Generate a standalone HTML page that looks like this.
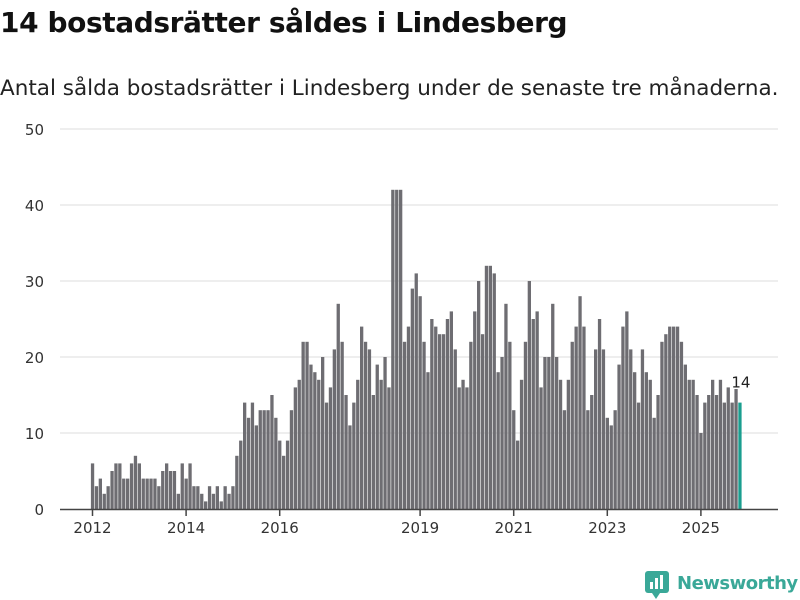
<!DOCTYPE html>
<html><head><meta charset="utf-8"><style>
body{margin:0;background:#fff;width:800px;height:600px;overflow:hidden;font-family:"Liberation Sans","DejaVu Sans",sans-serif}
#title{position:absolute;left:0;top:6px;font-size:28px;font-weight:bold;color:#111;font-family:"DejaVu Sans","Liberation Sans",sans-serif;letter-spacing:-0.4px}
#sub{position:absolute;left:0;top:76px;font-size:21.5px;color:#222;font-family:"DejaVu Sans","Liberation Sans",sans-serif;letter-spacing:0px}
svg{position:absolute;left:0;top:0}
</style></head><body>
<div id="title">14 bostadsrätter såldes i Lindesberg</div>
<div id="sub">Antal sålda bostadsrätter i Lindesberg under de senaste tre månaderna.</div>
<svg id="chart" width="800" height="600"></svg>
<script>
const values=[6,3,4,2,3,5,6,6,4,4,6,7,6,4,4,4,4,3,5,6,5,5,2,6,4,6,3,3,2,
1,3,2,3,1,3,2,3,7,9,14,12,14,11,13,13,13,15,12,9,7,9,13,16,17,22,22,
19,18,17,20,14,16,21,27,22,15,11,14,17,24,22,21,15,19,17,20,16,42,42,42,22,24,
29,31,28,22,18,25,24,23,23,25,26,21,16,17,16,22,26,30,23,32,32,31,18,20,27,22,
13,9,17,22,30,25,26,16,20,20,27,20,17,13,17,22,24,28,24,13,15,21,25,21,12,11,13,19,24,
26,21,18,14,21,18,17,12,15,22,23,24,24,24,22,19,17,17,15,10,14,15,17,15,17,14,16,14,16,14];
const yTicks=[0,10,20,30,40,50];
const xTickYears=[2012,2014,2016,2019,2021,2023,2025];
const startYear=2012;
const NS="http://www.w3.org/2000/svg";
const svg=document.getElementById('chart');
const y0=509,yTop=129;
function y(v){return y0-(v/50)*(y0-yTop);}
function x(i){return 92.5+i*3.9;}
function mk(t,a){const e=document.createElementNS(NS,t);for(const k in a)e.setAttribute(k,a[k]);svg.appendChild(e);return e;}
yTicks.forEach(t=>{
 if(t>0){const l=mk('line',{x1:60,x2:778,y1:y(t),y2:y(t),stroke:'#e3e3e3','stroke-width':1.3});
 
 }
 const tx=mk('text',{x:44,y:y(t)+6,'text-anchor':'end','font-size':15,fill:'#333','font-family':'DejaVu Sans, Liberation Sans, sans-serif'});
 tx.textContent=t;
 
 
});
values.forEach((v,i)=>{
 const last=i===values.length-1;
 const r=mk('rect',{x:x(i)-1.6,y:y(v),width:3.3,height:y0-y(v),fill:last?'#1a9e8f':'#6e6d72'});
 
 
});
const li=values.length-1;
const lab=mk('text',{x:x(li)+1,y:y(values[li])-15,'text-anchor':'middle','font-size':15,fill:'#222','font-family':'DejaVu Sans, Liberation Sans, sans-serif',stroke:'#fff','stroke-width':3,'paint-order':'stroke'});
lab.textContent=values[li];


const ax=mk('line',{x1:60,x2:778,y1:y0+0.5,y2:y0+0.5,stroke:'#444','stroke-width':1.5});


xTickYears.forEach(yr=>{
 const xi=x((yr-startYear)*12);
 const tk=mk('line',{x1:xi,x2:xi,y1:y0,y2:y0+7,stroke:'#444','stroke-width':1.5});
 
 
 const t=mk('text',{x:xi,y:y0+24,'text-anchor':'middle','font-size':15,fill:'#333','font-family':'DejaVu Sans, Liberation Sans, sans-serif'});
 t.textContent=yr;
 
 
});
</script>
<svg width="800" height="600" style="pointer-events:none">
<rect x="645" y="571" width="24" height="22" rx="3" fill="#3aa898"/>
<path d="M652 593 L656 599 L660 593 Z" fill="#3aa898"/>
<rect x="650" y="582" width="3" height="7" fill="#fff"/><rect x="655" y="578" width="3" height="11" fill="#fff"/><rect x="660" y="575" width="3" height="14" fill="#fff"/>
<text x="677" y="589" font-size="18" font-weight="bold" fill="#3aa898" font-family="DejaVu Sans, Liberation Sans, sans-serif" letter-spacing="-0.5">Newsworthy</text>
</svg>
</body></html>
